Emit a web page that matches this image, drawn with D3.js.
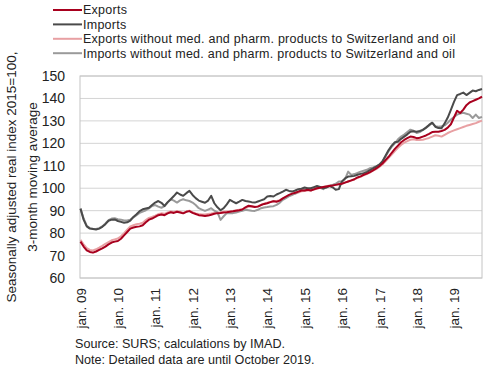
<!DOCTYPE html>
<html>
<head>
<meta charset="utf-8">
<script src="https://cdn.jsdelivr.net/npm/d3@7"></script>
<style>
  body { margin: 0; background: #fff; }
  svg { display: block; font-family: "Liberation Sans", Arial, sans-serif; }
</style>
</head>
<body>
<svg id="chart" width="490" height="372"></svg>
<script>
// monthly, jan 2009 - oct 2019 (3-month moving average, 2015=100)
const exportsTotal = [
  76.2, 74.0, 72.3, 71.6, 71.3, 71.8, 72.5, 73.2, 74.0, 75.0, 75.8, 76.2,
  76.5, 77.5, 79.0, 80.5, 82.0, 82.5, 82.8, 83.0, 83.5, 84.8, 86.0, 86.5,
  87.2, 88.0, 88.3, 88.0, 88.8, 89.3, 89.0, 89.5, 89.2, 88.8, 89.5, 89.8,
  89.0, 88.5, 88.0, 87.8, 87.6, 87.8, 88.2, 88.6, 88.9, 89.0, 89.2, 89.3,
  89.5, 89.7, 90.0, 90.2, 90.5, 91.5, 92.2, 92.0, 91.6, 91.8, 92.5, 93.0,
  93.3, 93.8, 94.2, 94.0, 94.5, 95.5, 96.3, 97.0, 97.6, 98.0, 98.5, 99.0,
  99.0, 99.3, 99.0, 99.5, 100.0, 100.2, 100.5, 100.8, 101.0, 101.2, 101.5, 101.8,
  102.0, 102.5, 103.0, 103.5, 104.0, 104.8, 105.3, 106.0, 106.5, 107.2, 108.0, 108.8,
  109.8, 111.0, 112.5, 114.0, 115.8, 117.5, 119.0, 120.5, 121.5, 122.3, 123.0, 122.8,
  122.3, 122.5, 123.0, 123.5, 124.2, 125.0, 125.2, 125.2, 125.5, 126.0, 127.0, 128.5,
  131.5, 134.5, 133.5, 135.0, 137.0, 138.2, 138.8, 139.4, 140.0, 140.8
];
const importsTotal = [
  90.9, 86.0, 83.0, 82.0, 81.8, 81.6, 82.0, 82.8, 84.0, 85.5, 86.0, 86.1,
  85.4, 85.0, 84.6, 84.8, 85.6, 87.2, 88.4, 89.8, 90.6, 91.0, 91.3, 92.5,
  93.6, 94.3, 93.5, 92.1, 93.8, 95.1, 96.5, 98.1, 97.2, 96.6, 97.8, 98.8,
  97.0, 95.6, 94.5, 94.0, 93.5, 94.5, 96.6, 93.3, 91.5, 90.2, 91.1, 92.8,
  94.8, 94.0, 93.3, 94.0, 94.8, 94.3, 94.1, 93.8, 93.6, 94.1, 94.6, 95.1,
  96.3, 96.5, 96.3, 97.2, 97.8, 98.5, 99.3, 98.8, 98.5, 99.0, 99.6, 99.8,
  100.3, 100.0, 100.0, 100.5, 101.0, 100.6, 100.0, 100.3, 101.0, 100.4, 99.3, 99.6,
  103.0, 104.4, 105.2, 105.3, 105.5, 106.0, 106.4, 106.7, 107.3, 108.1, 108.8, 109.6,
  110.5, 111.9, 114.5, 117.0, 119.0, 120.5, 120.7, 122.0, 123.0, 124.0, 125.2, 125.4,
  125.2, 125.5, 126.0, 127.0, 128.2, 129.2, 127.4, 126.8, 126.7, 128.9, 131.5, 134.9,
  138.5, 141.5, 142.0, 142.6, 141.5, 142.5, 143.5, 143.2, 143.8, 144.2
];
const exportsAdj = [
  77.0, 75.0, 73.3, 72.5, 72.3, 72.8, 73.5, 74.3, 75.2, 76.0, 76.8, 77.2,
  77.6, 78.6, 80.0, 81.5, 83.0, 83.5, 84.0, 84.2, 84.6, 85.8, 86.8, 87.2,
  87.8, 88.5, 88.8, 88.6, 89.2, 89.6, 89.4, 89.8, 89.5, 89.0, 89.6, 90.0,
  89.3, 88.8, 88.5, 88.3, 88.3, 88.5, 88.7, 89.0, 89.2, 89.3, 89.5, 89.6,
  89.7, 89.9, 90.2, 90.4, 90.6, 91.2, 91.7, 91.8, 91.8, 92.0, 92.6, 93.1,
  93.5, 93.9, 94.3, 94.3, 94.7, 95.4, 96.0, 96.6, 97.2, 97.6, 98.1, 98.6,
  98.8, 99.0, 99.0, 99.4, 99.8, 100.2, 100.6, 100.9, 101.2, 101.4, 101.7, 102.0,
  102.2, 102.6, 103.0, 103.4, 103.9, 104.6, 105.1, 105.8, 106.3, 107.0, 107.8, 108.5,
  109.5, 110.6, 112.0, 113.5, 115.0, 116.5, 118.0, 119.3, 120.3, 121.0, 121.6, 121.8,
  121.5, 121.5, 121.6, 122.0, 122.4, 123.0, 123.6, 123.4, 123.0, 123.8, 124.6, 125.2,
  125.8, 126.3, 126.8, 127.3, 127.8, 128.2, 128.6, 129.0, 129.6, 130.1
];
const importsAdj = [
  90.9, 86.5, 83.3, 82.3, 82.0, 81.8, 82.2, 83.0, 84.3, 85.8, 86.5, 86.6,
  86.2, 86.0, 85.6, 85.6, 86.0, 87.0, 88.0, 89.0, 89.6, 90.2, 91.0, 92.1,
  92.5, 91.8, 91.3, 92.0, 93.6, 95.1, 94.5, 93.6, 94.6, 95.1, 94.6, 94.3,
  93.6, 92.5, 91.1, 90.5, 89.9, 90.5, 91.1, 90.0, 89.2, 85.9, 87.5, 88.9,
  88.9, 88.9, 89.2, 89.6, 89.9, 90.4, 90.2, 90.0, 89.9, 90.4, 91.1, 91.4,
  91.6, 91.9, 92.0, 92.6, 93.5, 94.8, 95.6, 96.5, 97.0, 97.6, 98.5, 99.3,
  99.5, 99.6, 99.8, 100.0, 100.4, 100.2, 99.6, 100.5, 101.0, 101.5, 102.0, 103.0,
  103.0, 104.0, 107.4, 105.9, 106.3, 106.8, 107.4, 107.8, 108.2, 108.9, 109.3, 109.8,
  110.4, 112.0, 114.1, 116.5, 118.5, 120.0, 121.8, 123.0, 123.9, 125.0, 126.1, 125.6,
  124.6, 125.0, 126.0, 126.9, 128.0, 129.1, 127.6, 127.4, 127.6, 128.0, 129.2, 130.6,
  131.7, 132.8, 133.3, 133.6, 133.2, 132.8, 131.3, 132.8, 131.3, 131.8
];

const monthNames = ["jan.", "feb.", "mar.", "apr.", "may", "jun.", "jul.", "aug.", "sep.", "oct.", "nov.", "dec."];
const years = ["09", "10", "11", "12", "13", "14", "15", "16", "17", "18", "19"];
const months = d3.range(exportsTotal.length).map(i => monthNames[i % 12] + " " + years[Math.floor(i / 12)]);
const yTicks = [60, 70, 80, 90, 100, 110, 120, 130, 140, 150];

const series = [
  {name: "Exports", values: exportsTotal, colour: "#a8001e"},
  {name: "Imports", values: importsTotal, colour: "#4a4a4a"},
  {name: "Exports without med. and pharm. products to Switzerland and oil", values: exportsAdj, colour: "#e8a0a3"},
  {name: "Imports without med. and pharm. products to Switzerland and oil", values: importsAdj, colour: "#9a9a9a"}
];
// draw order: light ones under the dark ones
const drawOrder = [2, 3, 1, 0];

const svg = d3.select("#chart");
const plotLeft = 80, plotRight = 482, plotTop = 76, plotBottom = 278;

const x = d3.scalePoint().domain(months).range([plotLeft + 0.5, plotRight]);
const y = d3.scaleLinear().domain([60, 150]).range([plotBottom, plotTop]);

// grid
svg.append("g")
  .selectAll("line")
  .data(yTicks)
  .join("line")
  .attr("x1", plotLeft).attr("x2", plotRight)
  .attr("y1", d => y(d)).attr("y2", d => y(d))
  .attr("stroke", "#d4d4d4")
  .attr("stroke-width", 1);

svg.append("rect")
  .attr("x", plotLeft).attr("y", plotTop)
  .attr("width", plotRight - plotLeft).attr("height", plotBottom - plotTop)
  .attr("fill", "none")
  .attr("stroke", "#c4c4c4");

// y axis
svg.append("g")
  .attr("transform", `translate(${plotLeft},0)`)
  .call(d3.axisLeft(y).tickValues(yTicks).tickSize(0).tickPadding(15))
  .call(g => g.select(".domain").remove())
  .call(g => g.selectAll("text")
    .attr("font-size", 14)
    .attr("font-family", "Liberation Sans, Arial, sans-serif")
    .attr("fill", "#222"));

// x axis, one label per january
const janLabels = months.filter((m, i) => i % 12 === 0);
svg.append("g")
  .attr("transform", `translate(0,${plotBottom})`)
  .call(d3.axisBottom(x).tickValues(janLabels).tickSize(0).tickPadding(0))
  .call(g => g.select(".domain").remove())
  .call(g => g.selectAll("text")
    .attr("transform", "rotate(-90)")
    .attr("x", -10).attr("y", 0).attr("dy", "0.35em")
    .attr("text-anchor", "end")
    .attr("font-size", 13.5)
    .attr("font-family", "Liberation Sans, Arial, sans-serif")
    .attr("fill", "#222"));

// lines
const line = d3.line()
  .x((d, i) => x(months[i]))
  .y(d => y(d));

svg.append("g")
  .selectAll("path")
  .data(drawOrder.map(k => series[k]))
  .join("path")
  .attr("d", d => line(d.values))
  .attr("fill", "none")
  .attr("stroke", d => d.colour)
  .attr("stroke-width", 2)
  .attr("stroke-linejoin", "round");

// legend
const legend = svg.append("g")
  .selectAll("g")
  .data(series)
  .join("g")
  .attr("transform", (d, i) => `translate(53,${10 + i * 14.4})`);
legend.append("line")
  .attr("x1", 0).attr("x2", 29)
  .attr("stroke", d => d.colour)
  .attr("stroke-width", 2);
legend.append("text")
  .attr("x", 30).attr("dy", "0.35em")
  .attr("font-size", 12.5)
  .attr("letter-spacing", 0.25)
  .attr("fill", "#222")
  .text(d => d.name);

// y title
const yTitle = svg.append("text")
  .attr("transform", `translate(0,${(plotTop + plotBottom) / 2}) rotate(-90)`)
  .attr("text-anchor", "middle")
  .attr("font-size", 13.5)
  .attr("fill", "#222");
yTitle.append("tspan").attr("x", 0).attr("y", 16).text("Seasonally adjusted real index 2015=100,");
yTitle.append("tspan").attr("x", 0).attr("y", 37).text("3-month moving average");

// notes
svg.append("text")
  .attr("x", 75).attr("y", 348)
  .attr("font-size", 12.6)
  .attr("fill", "#222")
  .text("Source: SURS; calculations by IMAD.");
svg.append("text")
  .attr("x", 75).attr("y", 364)
  .attr("font-size", 12.6)
  .attr("fill", "#222")
  .text("Note: Detailed data are until October 2019.");
</script>
</body>
</html>
